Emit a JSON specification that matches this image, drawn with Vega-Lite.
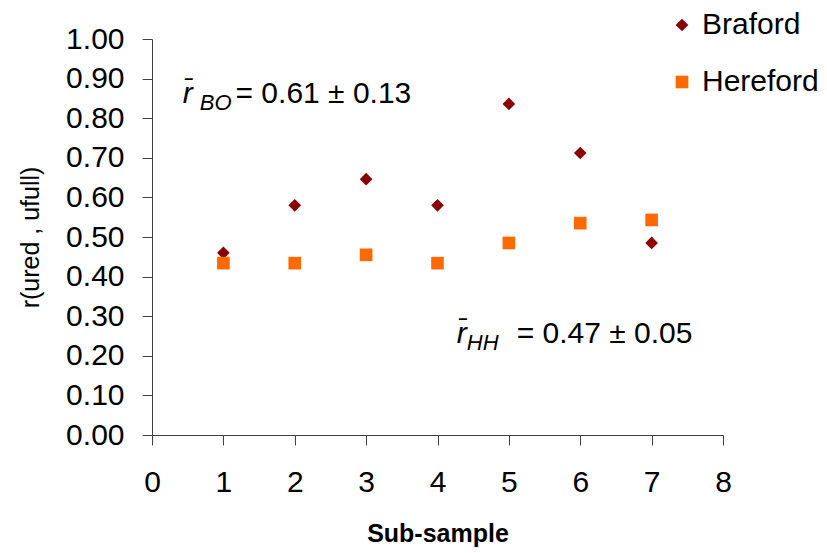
{
  "$schema": "https://vega.github.io/schema/vega-lite/v6.json",
  "width": 571,
  "height": 396,
  "autosize": {"type": "none"},
  "padding": {"left": 152, "top": 39, "right": 104, "bottom": 118},
  "background": "white",
  "config": {
    "font": "Liberation Sans",
    "view": {"stroke": null},
    "axis": {
      "grid": false,
      "domainColor": "#404040",
      "tickColor": "#404040",
      "labelColor": "#000000",
      "titleColor": "#000000",
      "labelFont": "Liberation Sans",
      "titleFont": "Liberation Sans",
      "labelOverlap": false,
      "labelFlush": false,
      "tickSize": 10,
      "labelFontSize": 30,
      "titleFontSize": 25
    },
    "axisX": {"labelPadding": 22, "titlePadding": 24, "titleFontWeight": "bold"},
    "axisY": {"labelPadding": 18, "titlePadding": 22, "titleFontWeight": "normal"}
  },
  "layer": [
    {
      "data": {
        "values": [
          {"subsample": 1, "r": 0.46, "breed": "Braford"},
          {"subsample": 2, "r": 0.58, "breed": "Braford"},
          {"subsample": 3, "r": 0.646, "breed": "Braford"},
          {"subsample": 4, "r": 0.58, "breed": "Braford"},
          {"subsample": 5, "r": 0.836, "breed": "Braford"},
          {"subsample": 6, "r": 0.712, "breed": "Braford"},
          {"subsample": 7, "r": 0.485, "breed": "Braford"},
          {"subsample": 1, "r": 0.434, "breed": "Hereford"},
          {"subsample": 2, "r": 0.434, "breed": "Hereford"},
          {"subsample": 3, "r": 0.455, "breed": "Hereford"},
          {"subsample": 4, "r": 0.434, "breed": "Hereford"},
          {"subsample": 5, "r": 0.485, "breed": "Hereford"},
          {"subsample": 6, "r": 0.535, "breed": "Hereford"},
          {"subsample": 7, "r": 0.543, "breed": "Hereford"}
        ]
      },
      "mark": {"type": "point", "filled": true, "opacity": 1, "size": 160},
      "encoding": {
        "x": {
          "field": "subsample",
          "type": "quantitative",
          "scale": {"domain": [0, 8], "nice": false},
          "axis": {"values": [0, 1, 2, 3, 4, 5, 6, 7, 8], "format": "d", "title": "Sub-sample"}
        },
        "y": {
          "field": "r",
          "type": "quantitative",
          "scale": {"domain": [0, 1], "nice": false},
          "axis": {"values": [0, 0.1, 0.2, 0.3, 0.4, 0.5, 0.6, 0.7, 0.8, 0.9, 1.0], "format": ".2f", "title": "r(ured , ufull)"}
        },
        "color": {
          "field": "breed",
          "type": "nominal",
          "scale": {"domain": ["Braford", "Hereford"], "range": ["#8B0000", "#FF6A00"]},
          "legend": {
            "title": null,
            "orient": "none",
            "legendX": 515,
            "legendY": -29,
            "labelFontSize": 30,
            "labelColor": "#000000",
            "symbolSize": 160,
            "rowPadding": 27,
            "labelOffset": 5
          }
        },
        "shape": {
          "field": "breed",
          "type": "nominal",
          "scale": {"domain": ["Braford", "Hereford"], "range": ["diamond", "square"]}
        }
      }
    },
    {
      "data": {"values": [{}]},
      "mark": {"type": "text", "align": "left", "baseline": "alphabetic", "fontSize": 30, "fontStyle": "italic", "color": "#000000"},
      "encoding": {
        "x": {"datum": 0.43, "type": "quantitative", "axis": {"values": [0, 1, 2, 3, 4, 5, 6, 7, 8], "format": "d", "title": "Sub-sample"}},
        "y": {"datum": 0.838, "type": "quantitative", "axis": {"values": [0, 0.1, 0.2, 0.3, 0.4, 0.5, 0.6, 0.7, 0.8, 0.9, 1.0], "format": ".2f", "title": "r(ured , ufull)"}},
        "text": {"value": "r̄"}
      }
    },
    {
      "data": {"values": [{}]},
      "mark": {"type": "text", "align": "left", "baseline": "alphabetic", "fontSize": 22, "fontStyle": "italic", "color": "#000000"},
      "encoding": {
        "x": {"datum": 0.67, "type": "quantitative", "axis": {"values": [0, 1, 2, 3, 4, 5, 6, 7, 8], "format": "d", "title": "Sub-sample"}},
        "y": {"datum": 0.82, "type": "quantitative", "axis": {"values": [0, 0.1, 0.2, 0.3, 0.4, 0.5, 0.6, 0.7, 0.8, 0.9, 1.0], "format": ".2f", "title": "r(ured , ufull)"}},
        "text": {"value": "BO"}
      }
    },
    {
      "data": {"values": [{}]},
      "mark": {"type": "text", "align": "left", "baseline": "alphabetic", "fontSize": 30, "color": "#000000"},
      "encoding": {
        "x": {"datum": 1.17, "type": "quantitative", "axis": {"values": [0, 1, 2, 3, 4, 5, 6, 7, 8], "format": "d", "title": "Sub-sample"}},
        "y": {"datum": 0.838, "type": "quantitative", "axis": {"values": [0, 0.1, 0.2, 0.3, 0.4, 0.5, 0.6, 0.7, 0.8, 0.9, 1.0], "format": ".2f", "title": "r(ured , ufull)"}},
        "text": {"value": "= 0.61 ± 0.13"}
      }
    },
    {
      "data": {"values": [{}]},
      "mark": {"type": "text", "align": "left", "baseline": "alphabetic", "fontSize": 30, "fontStyle": "italic", "color": "#000000"},
      "encoding": {
        "x": {"datum": 4.27, "type": "quantitative", "axis": {"values": [0, 1, 2, 3, 4, 5, 6, 7, 8], "format": "d", "title": "Sub-sample"}},
        "y": {"datum": 0.232, "type": "quantitative", "axis": {"values": [0, 0.1, 0.2, 0.3, 0.4, 0.5, 0.6, 0.7, 0.8, 0.9, 1.0], "format": ".2f", "title": "r(ured , ufull)"}},
        "text": {"value": "r̄"}
      }
    },
    {
      "data": {"values": [{}]},
      "mark": {"type": "text", "align": "left", "baseline": "alphabetic", "fontSize": 22, "fontStyle": "italic", "color": "#000000"},
      "encoding": {
        "x": {"datum": 4.41, "type": "quantitative", "axis": {"values": [0, 1, 2, 3, 4, 5, 6, 7, 8], "format": "d", "title": "Sub-sample"}},
        "y": {"datum": 0.214, "type": "quantitative", "axis": {"values": [0, 0.1, 0.2, 0.3, 0.4, 0.5, 0.6, 0.7, 0.8, 0.9, 1.0], "format": ".2f", "title": "r(ured , ufull)"}},
        "text": {"value": "HH"}
      }
    },
    {
      "data": {"values": [{}]},
      "mark": {"type": "text", "align": "left", "baseline": "alphabetic", "fontSize": 30, "color": "#000000"},
      "encoding": {
        "x": {"datum": 5.11, "type": "quantitative", "axis": {"values": [0, 1, 2, 3, 4, 5, 6, 7, 8], "format": "d", "title": "Sub-sample"}},
        "y": {"datum": 0.232, "type": "quantitative", "axis": {"values": [0, 0.1, 0.2, 0.3, 0.4, 0.5, 0.6, 0.7, 0.8, 0.9, 1.0], "format": ".2f", "title": "r(ured , ufull)"}},
        "text": {"value": "= 0.47 ± 0.05"}
      }
    }
  ]
}
